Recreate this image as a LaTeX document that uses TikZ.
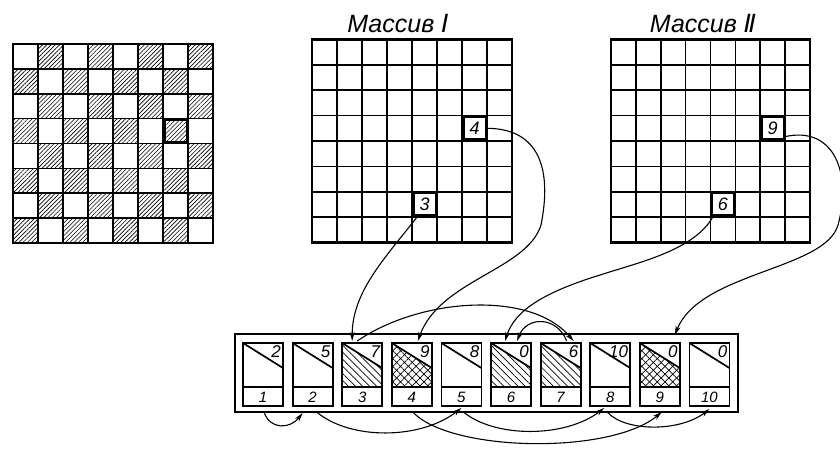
\documentclass[tikz,border=0pt]{standalone}
\usepackage{fontspec}
\setmainfont{Liberation Sans}
\newfontfamily\dv{DejaVu Sans}
\usetikzlibrary{patterns.meta,calc,arrows.meta}

\tikzset{
  gridline/.style={line width=1.7pt},
  gridframe/.style={line width=2.1pt},
  hl/.style={draw, line width=3pt, minimum width=23pt, minimum height=23pt, inner sep=0pt, outer sep=0pt,
             font=\fontsize{18}{18}\selectfont\itshape},
  chk/.style={pattern={Lines[angle=45,distance=3pt,line width=0.6pt]}},
  hatchA/.style={pattern={Lines[angle=-45,distance=5pt,line width=0.7pt]}},
  hatchB/.style={pattern={Lines[angle=45,distance=5.5pt,line width=0.7pt]}},
  hatchC/.style={pattern={Lines[angle=-45,distance=5.5pt,line width=0.7pt]}},
  cellbox/.style={draw, line width=1.8pt, minimum width=40pt, minimum height=63pt, inner sep=0pt, outer sep=0pt},
  bigbox/.style={draw, line width=2.1pt, minimum width=503pt, minimum height=78pt, inner sep=0pt, outer sep=0pt},
  num/.style={font=\fontsize{17}{17}\selectfont\itshape, inner sep=0.5pt},
  lab/.style={font=\fontsize{15}{15}\selectfont\itshape, inner sep=0pt},
  ttl/.style={font=\fontsize{25}{27}\selectfont\itshape, inner sep=0pt},
  arr/.style={-{Stealth[length=9pt,width=5pt,inset=2.5pt]}, line width=1.1pt},
}

\newcommand{\mygrid}[4]{%
  \foreach \i in {1,...,7} {
    \draw[gridline] ({#1+(#3-#1)*\i/8},#2) -- ({#1+(#3-#1)*\i/8},#4);
    \draw[gridline] (#1,{#2+(#4-#2)*\i/8}) -- (#3,{#2+(#4-#2)*\i/8});
  }
  \draw[gridframe] (#1,#2) rectangle (#3,#4);
}

\begin{document}
\begin{tikzpicture}[x=1pt,y=-1pt]
\useasboundingbox (0,0) rectangle (840,448);

% ---------- left checkerboard ----------
\foreach \r in {0,...,7} {
  \foreach \c in {0,...,7} {
    \pgfmathtruncatemacro\s{mod(\r+\c,2)}
    \ifnum\s=1
      \fill[chk] ({13+25*\c},{44+24.875*\r}) rectangle ++(25,24.875);
    \fi
  }
}
\mygrid{13}{44}{213}{243}
\node[hl] (h0) at (175.5,131.1) {};

% ---------- Massiv I ----------
\node[ttl] (tA) at (398,24) {Массив {\dv\itshape Ⅰ}};
\mygrid{312}{39.5}{512}{242.5}
\node[hl, fill=white] (hA4) at (474.5,128.3) {4};
\node[hl, fill=white] (hA3) at (424.5,204.4) {3};

% ---------- Massiv II ----------
\node[ttl] (tB) at (703,24) {Массив {\dv\itshape Ⅱ}};
\mygrid{611}{39.5}{810}{242.5}
\node[hl, fill=white] (hB9) at (772.7,128.3) {9};
\node[hl, fill=white] (hB6) at (722.9,204.4) {6};

% ---------- bottom array ----------
\node[bigbox] (box) at (486.5,373) {};
\foreach \i/\t/\h in {1/2/0, 2/5/0, 3/7/1, 4/9/2, 5/8/0, 6/0/1, 7/6/1, 8/10/0, 9/0/2, 10/0/0} {
  \pgfmathsetmacro\xo{243+49.6*(\i-1)}
  \ifnum\h=1
    \fill[hatchA] (\xo,343) -- (\xo+40,368) -- (\xo+40,387) -- (\xo,387) -- cycle;
  \fi
  \ifnum\h=2
    \fill[hatchB] (\xo,343) -- (\xo+40,368) -- (\xo+40,387) -- (\xo,387) -- cycle;
    \fill[hatchC] (\xo,343) -- (\xo+40,368) -- (\xo+40,387) -- (\xo,387) -- cycle;
  \fi
  \node[cellbox] (c\i) at (\xo+20,374.5) {};
  \draw[line width=1.7pt] (\xo,343) -- (\xo+40,368);
  \draw[line width=1.7pt] (\xo,387) -- (\xo+40,387);
  \node[num, anchor=north east] (t\i) at (\xo+38.5,345) {\t};
  \node[lab] (l\i) at (\xo+20,397) {\i};
}

% ---------- connectors from arrays ----------
\draw[arr] ($(hA3.south west)+(5,0)$) .. controls (385,258) and (352,292) .. ($(c3.north west)+(10,-2)$);
\draw[arr] (hA4.east) .. controls (540,128) and (552,170) .. (541,225) .. controls (527,270) and (440,280) .. ($(c4.north west)+(26,-2)$);
\draw[arr] ($(hB6.south west)+(2,0)$) .. controls (695,250) and (640,262) .. (600,275) .. controls (545,292) and (515,310) .. ($(c6.north west)+(14,-2)$);
\draw[arr] ($(hB9.south east)+(0,-3)$) .. controls (835,125) and (852,175) .. (838,225) .. controls (825,270) and (700,272) .. ($(c9.north)+(15,-8)$);

% ---------- arcs on top ----------
\draw[arr] ($(c3.north west)+(15,-2)$) .. controls (420,298) and (530,290) .. ($(c7.north west)+(33,-2)$);
\draw[arr] ($(c7.north west)+(26,-2)$) .. controls (557,316) and (527,316) .. ($(c6.north west)+(26,-2)$);

% ---------- arcs below ----------
\draw[arr] ($(c1.south)+(1,6)$) .. controls (270,430) and (290,429) .. ($(c2.south)+(-10,7)$);
\draw[arr] ($(c2.south)+(4,6)$) .. controls (350,440) and (420,440) .. ($(c5.south)+(0,2)$);
\draw[arr] ($(c5.south)+(2,6)$) .. controls (495,438) and (565,438) .. ($(c8.south)+(-6,2)$);
\draw[arr] ($(c8.south)+(-3,6)$) .. controls (625,432) and (680,432) .. ($(c10.south)+(0,3)$);
\draw[arr] ($(c4.south)+(1,6)$) .. controls (450,452) and (610,455) .. ($(c9.south)+(2,6)$);
\end{tikzpicture}
\end{document}
